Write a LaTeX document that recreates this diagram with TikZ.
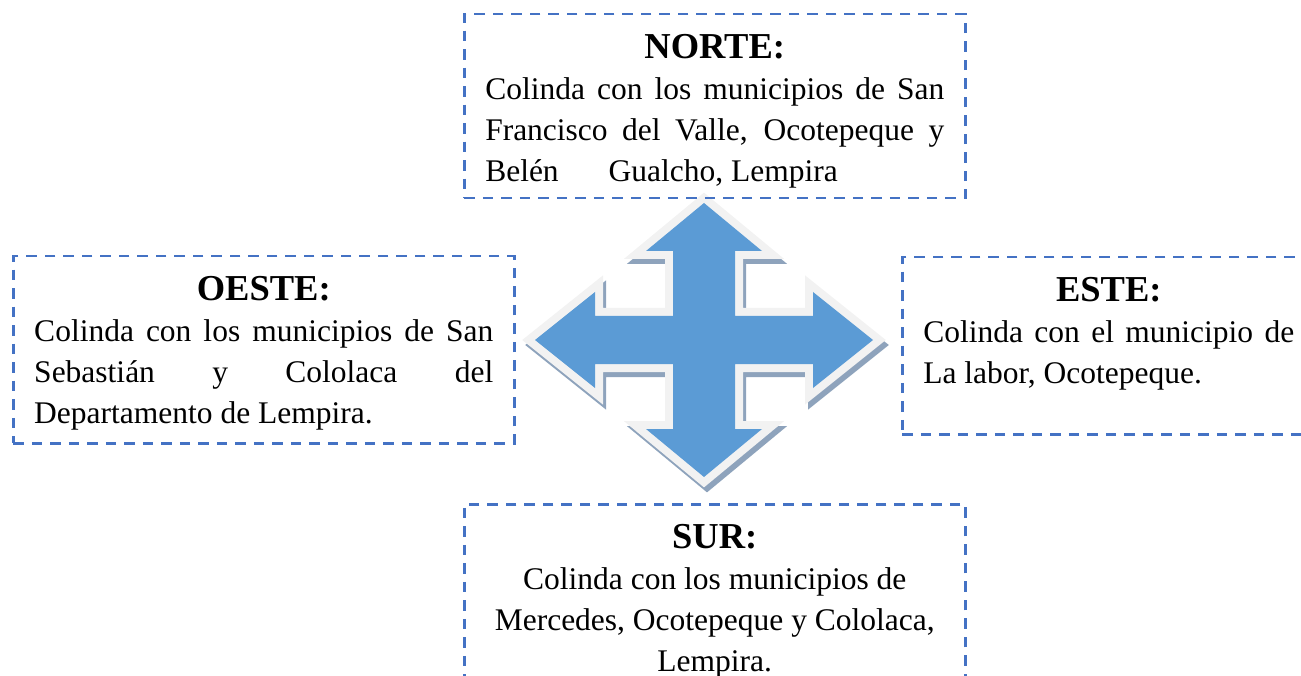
\documentclass[tikz,border=0pt]{standalone}
\usepackage{fontspec}
\setmainfont{Liberation Serif}
\usepackage{xcolor}
\definecolor{bordeazul}{HTML}{4472C4}
\definecolor{flechaazul}{HTML}{5B9BD5}
\definecolor{flechaborde}{HTML}{F2F2F2}
\definecolor{flechasombra}{HTML}{8EA3BC}
\newcommand{\rumbo}[1]{% title of a box
{\centering\fontsize{36.5pt}{40pt}\selectfont\bfseries #1\par}}
\newcommand{\cuerpo}{\fontsize{31.5pt}{41pt}\selectfont}
\tikzstyle{rumbobox} = [
    draw=bordeazul,
    line width=2.5pt,
    dash pattern=on 10.5pt off 8pt,
    rectangle,
    anchor=north west,
    inner xsep=21pt,
    inner ysep=20pt
    ]
\tikzstyle{flechafondo} = [
    line width=16pt,
    line join=miter
    ]
\def\rosa{(0,137) -- (58,89) -- (31,89) -- (31,24) -- (109,24) -- (109,48) -- (169,0)
    -- (109,-48) -- (109,-24) -- (31,-24) -- (31,-89) -- (58,-89) -- (0,-137)
    -- (-58,-89) -- (-31,-89) -- (-31,-24) -- (-109,-24) -- (-109,-48) -- (-169,0)
    -- (-109,48) -- (-109,24) -- (-31,24) -- (-31,89) -- (-58,89) -- cycle}

\begin{document}
\begin{tikzpicture}[x=1pt,y=1pt]
\useasboundingbox (0,0) rectangle (1301,-676);

% the four-way arrow
\begin{scope}[shift={(704,-340)}]
\draw[flechafondo, draw=flechasombra, fill=flechasombra, shift={(3,-5)}] \rosa;
\draw[flechafondo, draw=flechaborde, fill=flechaborde] \rosa;
\fill[flechaazul] \rosa;
\end{scope}

\node [rumbobox] (norte) at (463,-13) {%
    \begin{minipage}[t][144pt][t]{459pt}
\rumbo{NORTE:}
\cuerpo Colinda con los municipios de San\linebreak
Francisco del Valle, Ocotepeque y\linebreak
Belén\hspace*{42pt} Gualcho, Lempira
    \end{minipage}
};
\node [rumbobox] (oeste) at (12,-255) {%
    \begin{minipage}[t][147pt][t]{459pt}
\rumbo{OESTE:}
\cuerpo Colinda con los municipios de San\linebreak
Sebastián y Cololaca del\linebreak
Departamento de Lempira.
    \end{minipage}
};
\node [rumbobox] (este) at (901,-256) {%
    \begin{minipage}[t][137pt][t]{371pt}
\rumbo{ESTE:}
\cuerpo Colinda con el municipio de\linebreak
La labor, Ocotepeque.
    \end{minipage}
};
\node [rumbobox] (sur) at (463,-503) {%
    \begin{minipage}[t][157pt][t]{459pt}
\rumbo{SUR:}
{\centering\cuerpo Colinda con los municipios de\\
Mercedes, Ocotepeque y Cololaca,\\
Lempira.\par}
    \end{minipage}
};
\end{tikzpicture}
\end{document}
